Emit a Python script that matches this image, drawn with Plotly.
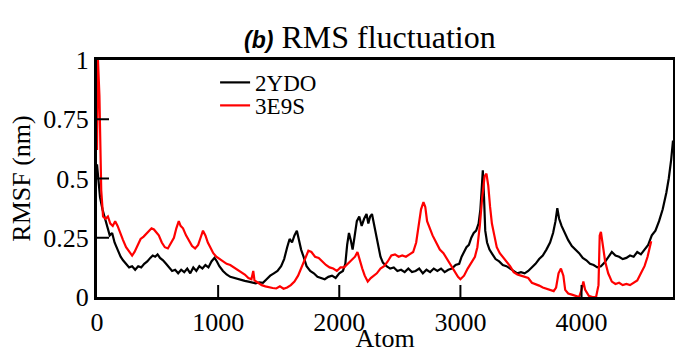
import plotly.graph_objects as go

# 2YDO (black)
atom_2ydo = [0, 10, 25, 45, 65, 85, 105, 125, 145, 170, 195, 215, 240, 265, 290, 315, 340, 365, 390, 415,
             440, 460, 480, 500, 520, 545, 570, 595, 620, 645, 670, 695, 720, 745, 770, 795, 820, 845, 870, 895,
             920, 945, 970, 990, 1010, 1040, 1070, 1100, 1130, 1160, 1190, 1220, 1250, 1280, 1310, 1340, 1370, 1400, 1430, 1460,
             1490, 1520, 1545, 1570, 1590, 1610, 1630, 1650, 1665, 1685, 1705, 1730, 1760, 1790, 1820, 1850, 1880, 1910, 1940, 1970,
             2000, 2030, 2050, 2065, 2080, 2095, 2110, 2125, 2145, 2165, 2185, 2205, 2225, 2240, 2255, 2270, 2285, 2300, 2320, 2340,
             2360, 2390, 2420, 2450, 2480, 2510, 2540, 2570, 2600, 2630, 2660, 2690, 2720, 2750, 2780, 2810, 2840, 2870, 2900, 2930,
             2960, 2990, 3010, 3030, 3050, 3070, 3090, 3110, 3130, 3150, 3165, 3175, 3185, 3195, 3205, 3220, 3240, 3265, 3290, 3320,
             3350, 3380, 3410, 3440, 3470, 3500, 3530, 3560, 3590, 3620, 3650, 3680, 3710, 3740, 3765, 3785, 3800, 3815, 3835, 3860,
             3890, 3920, 3950, 3980, 4010, 4040, 4070, 4100, 4130, 4160, 4190, 4220, 4250, 4280, 4310, 4340, 4370, 4400, 4430, 4460,
             4490, 4520, 4550, 4580, 4610, 4640, 4670, 4700, 4720, 4740, 4755]
rmsf_2ydo = [0.56, 0.50, 0.42, 0.37, 0.33, 0.30, 0.26, 0.27, 0.23, 0.20, 0.17, 0.155, 0.14, 0.125, 0.13, 0.115, 0.13, 0.125, 0.14, 0.15,
             0.165, 0.175, 0.17, 0.18, 0.165, 0.155, 0.14, 0.125, 0.11, 0.115, 0.10, 0.115, 0.105, 0.12, 0.10, 0.125, 0.11, 0.13, 0.12, 0.135,
             0.125, 0.15, 0.165, 0.15, 0.13, 0.11, 0.095, 0.085, 0.08, 0.075, 0.07, 0.068, 0.065, 0.06, 0.058, 0.062, 0.06, 0.075, 0.09, 0.10,
             0.11, 0.13, 0.16, 0.21, 0.245, 0.23, 0.26, 0.28, 0.24, 0.20, 0.17, 0.13, 0.11, 0.10, 0.085, 0.08, 0.075, 0.085, 0.09, 0.08,
             0.10, 0.11, 0.14, 0.22, 0.27, 0.24, 0.20, 0.25, 0.32, 0.34, 0.30, 0.33, 0.35, 0.31, 0.34, 0.35, 0.31, 0.27, 0.22, 0.17,
             0.145, 0.13, 0.12, 0.125, 0.11, 0.115, 0.105, 0.12, 0.105, 0.11, 0.12, 0.10, 0.115, 0.105, 0.12, 0.11, 0.12, 0.105, 0.115, 0.12,
             0.135, 0.14, 0.17, 0.19, 0.21, 0.22, 0.25, 0.27, 0.28, 0.31, 0.37, 0.45, 0.535, 0.42, 0.28, 0.23, 0.20, 0.18, 0.16, 0.15,
             0.135, 0.13, 0.12, 0.11, 0.10, 0.105, 0.10, 0.11, 0.125, 0.14, 0.16, 0.175, 0.20, 0.23, 0.27, 0.32, 0.375, 0.33, 0.30, 0.27,
             0.24, 0.215, 0.20, 0.185, 0.165, 0.155, 0.14, 0.135, 0.125, 0.13, 0.145, 0.17, 0.19, 0.175, 0.17, 0.16, 0.165, 0.175, 0.17, 0.19,
             0.18, 0.20, 0.22, 0.26, 0.28, 0.32, 0.37, 0.44, 0.50, 0.58, 0.66]

# 3E9S (red)
atom_3e9s = [0, 8, 20, 35, 50, 70, 90, 110, 130, 150, 170, 190, 215, 240, 265, 290, 310, 335, 360, 385,
             410, 430, 450, 470, 490, 510, 535, 560, 585, 610, 635, 655, 675, 690, 710, 735, 760, 785, 810, 835,
             855, 875, 895, 915, 935, 960, 985, 1010, 1040, 1070, 1100, 1130, 1160, 1190, 1220, 1250, 1275, 1290, 1300, 1330,
             1360, 1390, 1420, 1450, 1480, 1510, 1540, 1570, 1600, 1630, 1660, 1690, 1720, 1745, 1770, 1800, 1830, 1860, 1890, 1920,
             1950, 1980, 2010, 2040, 2070, 2100, 2130, 2150, 2170, 2190, 2210, 2235, 2260, 2285, 2310, 2340, 2370, 2400, 2430, 2460,
             2490, 2520, 2550, 2580, 2610, 2635, 2655, 2675, 2695, 2710, 2725, 2745, 2770, 2800, 2830, 2860, 2890, 2920, 2950, 2980,
             3000, 3030, 3060, 3090, 3120, 3140, 3160, 3180, 3200, 3215, 3230, 3245, 3260, 3280, 3300, 3325, 3350, 3380, 3410, 3440,
             3470, 3500, 3530, 3560, 3590, 3620, 3650, 3680, 3710, 3740, 3770, 3790, 3810, 3830, 3850, 3865, 3890, 3920, 3950, 3980,
             4000, 4015, 4030, 4060, 4090, 4120, 4140, 4150, 4160, 4175, 4195, 4220, 4250, 4280, 4310, 4340, 4370, 4400, 4430, 4460,
             4490, 4520, 4545, 4565, 4575]
rmsf_3e9s = [0.62, 1.0, 0.85, 0.45, 0.34, 0.33, 0.34, 0.31, 0.30, 0.32, 0.30, 0.27, 0.24, 0.21, 0.19, 0.175, 0.19, 0.22, 0.245, 0.255,
             0.27, 0.28, 0.29, 0.285, 0.27, 0.26, 0.23, 0.21, 0.205, 0.23, 0.25, 0.29, 0.32, 0.30, 0.29, 0.26, 0.24, 0.215, 0.205, 0.22,
             0.25, 0.28, 0.26, 0.23, 0.21, 0.185, 0.17, 0.16, 0.15, 0.14, 0.135, 0.125, 0.115, 0.105, 0.095, 0.08, 0.075, 0.11, 0.07, 0.06,
             0.05, 0.045, 0.04, 0.038, 0.036, 0.045, 0.035, 0.04, 0.05, 0.065, 0.09, 0.13, 0.17, 0.195, 0.19, 0.17, 0.165, 0.15, 0.135, 0.125,
             0.12, 0.11, 0.125, 0.125, 0.14, 0.155, 0.17, 0.19, 0.15, 0.12, 0.09, 0.065, 0.08, 0.09, 0.10, 0.12, 0.13, 0.15, 0.175, 0.18,
             0.17, 0.175, 0.17, 0.18, 0.19, 0.23, 0.30, 0.37, 0.40, 0.38, 0.32, 0.29, 0.26, 0.23, 0.20, 0.185, 0.16, 0.13, 0.11, 0.085,
             0.075, 0.09, 0.12, 0.145, 0.17, 0.21, 0.30, 0.42, 0.51, 0.52, 0.47, 0.38, 0.31, 0.26, 0.21, 0.185, 0.17, 0.15, 0.13, 0.105,
             0.095, 0.09, 0.085, 0.08, 0.06, 0.055, 0.048, 0.04, 0.035, 0.03, 0.025, 0.04, 0.10, 0.12, 0.09, 0.03, 0.015, 0.01, 0.005, 0.0,
             0.03, 0.065, 0.03, 0.005, 0.0, 0.0, 0.05, 0.26, 0.275, 0.21, 0.15, 0.10, 0.065, 0.055, 0.06, 0.05, 0.055, 0.05, 0.06, 0.07,
             0.10, 0.13, 0.17, 0.21, 0.235]

x_ticks = [0, 1000, 2000, 3000, 4000]
x_tick_labels = ["0", "1000", "2000", "3000", "4000"]
y_ticks = [0, 0.25, 0.5, 0.75, 1]
y_tick_labels = ["0", "0.25", "0.5", "0.75", "1"]

SERIF = "Liberation Serif"

fig = go.Figure()
fig.add_trace(go.Scatter(x=atom_2ydo, y=rmsf_2ydo, mode="lines", name="2YDO",
                         line=dict(color="black", width=2.2), legend="legend"))
fig.add_trace(go.Scatter(x=atom_3e9s, y=rmsf_3e9s, mode="lines", name="3E9S",
                         line=dict(color="#ff0000", width=2.2), legend="legend2"))

axis_common = dict(showline=True, linecolor="#000000", linewidth=3, mirror=True,
                   ticks="inside", ticklen=12, tickwidth=2, tickcolor="#000000",
                   showgrid=False, zeroline=False, layer="above traces",
                   tickfont=dict(family=SERIF, size=26, color="black"))

fig.update_xaxes(range=[0, 4755], tickmode="array", tickvals=x_ticks, ticktext=x_tick_labels,
                 title=dict(text="Atom", font=dict(family=SERIF, size=26, color="black"), standoff=0),
                 **axis_common)
fig.update_yaxes(range=[0, 1], tickmode="array", tickvals=y_ticks, ticktext=y_tick_labels,
                 title=dict(text="RMSF (nm)", font=dict(family=SERIF, size=26, color="black"), standoff=6),
                 **axis_common)

legend_common = dict(xanchor="left", yanchor="top", bgcolor="rgba(0,0,0,0)", borderwidth=0,
                     font=dict(family=SERIF, size=23, color="black"), itemwidth=30)

fig.update_layout(
    width=675, height=353,
    margin=dict(l=97, r=2, t=60, b=56, autoexpand=False),
    paper_bgcolor="white", plot_bgcolor="white",
    font=dict(family=SERIF, color="black"),
    showlegend=True,
    legend=dict(x=0.205, y=0.996, **legend_common),
    legend2=dict(x=0.205, y=0.899, **legend_common),
    title=dict(text="<span style=\"font-family:'Liberation Sans';font-size:23px;font-weight:bold;font-style:italic\">(b)</span> RMS fluctuation",
               x=0.548, xanchor="center", xref="container",
               y=0.895, yanchor="middle", yref="container", automargin=False,
               font=dict(family=SERIF, size=32, color="black")),
)

post = (
    "document.body.style.margin='0';document.body.style.padding='0';"
    "var st=document.createElement('style');"
    "st.textContent='.js-plotly-plot .plotly path{shape-rendering:geometricPrecision !important;}';"
    "document.head.appendChild(st);"
)
fig.write_html("out.html", config={"displayModeBar": False}, post_script=post)
